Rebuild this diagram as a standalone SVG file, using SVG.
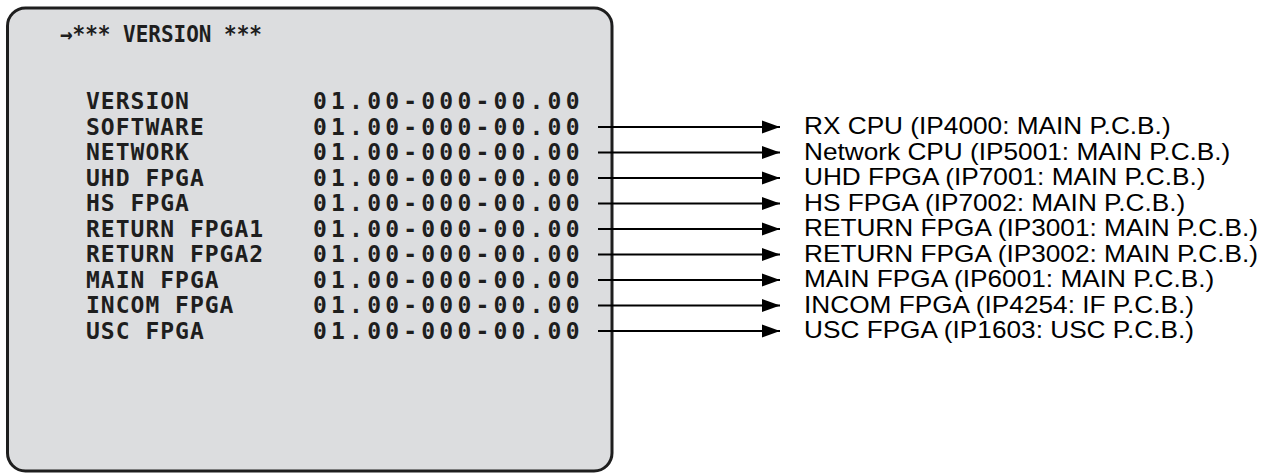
<svg xmlns="http://www.w3.org/2000/svg" width="1276" height="474" viewBox="0 0 1276 474">
<defs>
<marker id="ah" markerWidth="20" markerHeight="14" refX="18" refY="7" orient="auto" markerUnits="userSpaceOnUse">
<path d="M0,0.5 L18,7 L0,13.5 Z" fill="#000"/>
</marker>
<style>
.osd{font-family:"DejaVu Sans Mono","Liberation Mono",monospace;font-weight:bold;font-size:23px;fill:#1e1e1e}
.k{letter-spacing:1px}
.v{letter-spacing:4.2px}
.lbl{font-family:"Liberation Sans",Arial,sans-serif;font-size:23px;fill:#000}
.con{stroke:#000;stroke-width:2;fill:none;marker-end:url(#ah)}
</style>
</defs>
<rect width="1276" height="474" fill="#fff"/>
<g id="screen">
<rect x="7.5" y="8" width="604.5" height="463" rx="18" ry="18" fill="#dcdddf" stroke="#1e1e1e" stroke-width="3"/>
<text class="osd" x="60" y="42" textLength="202" lengthAdjust="spacingAndGlyphs">→*** VERSION ***</text>
<text class="osd k" x="86" y="109">VERSION</text><text class="osd v" x="313" y="109">01.00-000-00.00</text>
<text class="osd k" x="86" y="134.5">SOFTWARE</text><text class="osd v" x="313" y="134.5">01.00-000-00.00</text>
<text class="osd k" x="86" y="160">NETWORK</text><text class="osd v" x="313" y="160">01.00-000-00.00</text>
<text class="osd k" x="86" y="185.5">UHD FPGA</text><text class="osd v" x="313" y="185.5">01.00-000-00.00</text>
<text class="osd k" x="86" y="211">HS FPGA</text><text class="osd v" x="313" y="211">01.00-000-00.00</text>
<text class="osd k" x="86" y="236.5">RETURN FPGA1</text><text class="osd v" x="313" y="236.5">01.00-000-00.00</text>
<text class="osd k" x="86" y="262">RETURN FPGA2</text><text class="osd v" x="313" y="262">01.00-000-00.00</text>
<text class="osd k" x="86" y="287.5">MAIN FPGA</text><text class="osd v" x="313" y="287.5">01.00-000-00.00</text>
<text class="osd k" x="86" y="313">INCOM FPGA</text><text class="osd v" x="313" y="313">01.00-000-00.00</text>
<text class="osd k" x="86" y="338.5">USC FPGA</text><text class="osd v" x="313" y="338.5">01.00-000-00.00</text>
</g>
<g id="connectors">
<line class="con" x1="598" y1="127" x2="780" y2="127"/>
<line class="con" x1="598" y1="152.5" x2="780" y2="152.5"/>
<line class="con" x1="598" y1="178" x2="780" y2="178"/>
<line class="con" x1="598" y1="203.5" x2="780" y2="203.5"/>
<line class="con" x1="598" y1="229" x2="780" y2="229"/>
<line class="con" x1="598" y1="254.5" x2="780" y2="254.5"/>
<line class="con" x1="598" y1="280" x2="780" y2="280"/>
<line class="con" x1="598" y1="305.5" x2="780" y2="305.5"/>
<line class="con" x1="598" y1="331" x2="780" y2="331"/>
</g>
<g id="labels" transform="translate(804 0) scale(1.14 1)">
<text class="lbl" id="l1" x="0" y="134.5">RX CPU (IP4000: MAIN P.C.B.)</text>
<text class="lbl" id="l2" x="0" y="160">Network CPU (IP5001: MAIN P.C.B.)</text>
<text class="lbl" id="l3" x="0" y="185.5">UHD FPGA (IP7001: MAIN P.C.B.)</text>
<text class="lbl" id="l4" x="0" y="211">HS FPGA (IP7002: MAIN P.C.B.)</text>
<text class="lbl" id="l5" x="0" y="236.5">RETURN FPGA (IP3001: MAIN P.C.B.)</text>
<text class="lbl" id="l6" x="0" y="262">RETURN FPGA (IP3002: MAIN P.C.B.)</text>
<text class="lbl" id="l7" x="0" y="287.5">MAIN FPGA (IP6001: MAIN P.C.B.)</text>
<text class="lbl" id="l8" x="0" y="313">INCOM FPGA (IP4254: IF P.C.B.)</text>
<text class="lbl" id="l9" x="0" y="338.5">USC FPGA (IP1603: USC P.C.B.)</text>
</g>
</svg>
